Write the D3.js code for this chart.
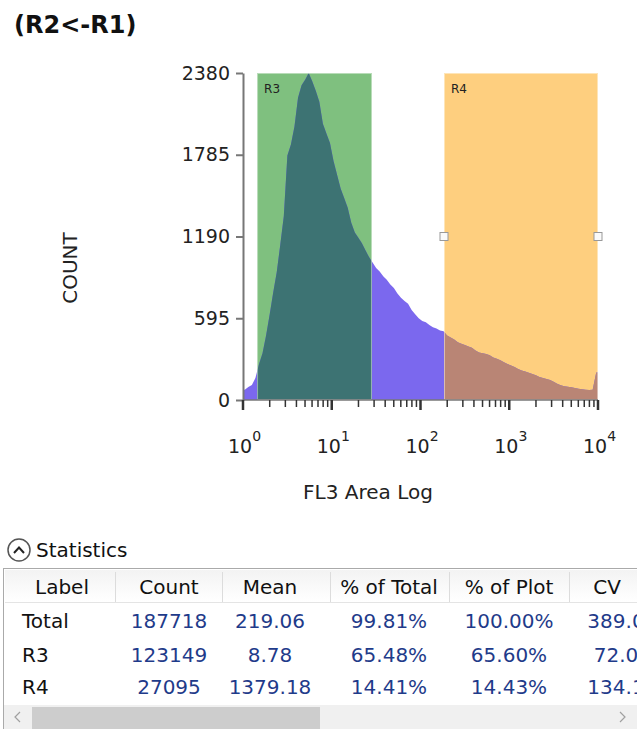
<!DOCTYPE html>
<html><head><meta charset="utf-8">
<script src="https://cdn.jsdelivr.net/npm/d3@7/dist/d3.min.js"></script>
<style>
html,body{margin:0;padding:0;background:#fff;}
svg{display:block;}
</style></head>
<body>
<svg id="c" width="637" height="729"></svg>
<script>
// ---------- data ----------
const title = "(R2<-R1)";
const xLabel = "FL3 Area Log";
const yLabel = "COUNT";
const yTicks = [0, 595, 1190, 1785, 2380];
const xDecades = [0, 1, 2, 3, 4];
const logMin = 0, logMax = 4;
// histogram counts, equal-width bins in log10 space from 10^0 to 10^4
const counts = [
  75, 95, 110, 160, 260, 340, 470, 620, 780, 930,
  1130, 1340, 1780, 1860, 1990, 2200, 2290, 2330, 2380, 2320,
  2250, 2170, 2010, 1940, 1870, 1740, 1640, 1540, 1470, 1400,
  1290, 1220, 1180, 1140, 1090, 1040, 1000, 960, 935, 900,
  875, 840, 815, 775, 745, 720, 700, 655, 625, 595,
  575, 565, 545, 530, 520, 505, 500, 470, 455, 440,
  420, 410, 400, 390, 380, 360, 345, 340, 335, 325,
  310, 300, 290, 275, 262, 252, 240, 225, 215, 208,
  198, 190, 180, 168, 160, 152, 145, 132, 118, 108,
  100, 96, 92, 88, 82, 78, 74, 72, 74, 200
];
const gateNames = ["R3", "R4"];
const gateLo = [1.44, 184];
const gateHi = [28.4, 10000];
const gateSelected = [false, true];
const statCols = ["Label", "Count", "Mean", "% of Total", "% of Plot", "CV"];
const statRows = ["Total", "R3", "R4"];
const statCount = ["187718", "123149", "27095"];
const statMean = ["219.06", "8.78", "1379.18"];
const statPctTotal = ["99.81%", "65.48%", "14.41%"];
const statPctPlot = ["100.00%", "65.60%", "14.43%"];
const statCV = ["389.0", "72.0", "134.1"];

// ---------- drawing ----------
const svg = d3.select("#c");
const FONT = "DejaVu Sans, Verdana, sans-serif";
const gateFill = ["#7fc07f", "#fecf7f"];
const overlapFill = ["#3d7373", "#b98575"];
const histFill = "#7b68ee";

const x = d3.scaleLog().domain([10 ** logMin, 10 ** logMax]).range([243, 598]);
const y = d3.scaleLinear().domain([0, 2380]).range([400, 73]);

svg.append("text").attr("x", 14).attr("y", 33)
  .attr("font-family", FONT).attr("font-weight", "bold").attr("font-size", 24)
  .attr("fill", "#111").text(title);

// gates background
const gates = gateNames.map((n, i) => ({name: n, lo: gateLo[i], hi: gateHi[i], sel: gateSelected[i], i}));
svg.selectAll("rect.gate").data(gates).enter().append("rect")
  .attr("class", "gate")
  .attr("x", d => x(d.lo)).attr("y", y(2380))
  .attr("width", d => x(d.hi) - x(d.lo)).attr("height", y(0) - y(2380))
  .attr("fill", d => gateFill[d.i]);

// histogram area through bin centres
const N = counts.length;
const w = (logMax - logMin) / N;
const pts = [[10 ** logMin, counts[0]]];
counts.forEach((c, i) => pts.push([10 ** (logMin + (i + 0.5) * w), c]));
pts.push([10 ** logMax, counts[N - 1]]);
const area = d3.area().x(d => x(d[0])).y0(y(0)).y1(d => y(d[1]));

const defs = svg.append("defs");
gates.forEach(d => {
  defs.append("clipPath").attr("id", "clip" + d.i).append("rect")
    .attr("x", x(d.lo)).attr("y", 0).attr("width", x(d.hi) - x(d.lo)).attr("height", 729);
});
svg.append("path").datum(pts).attr("d", area).attr("fill", histFill);
gates.forEach(d => {
  svg.append("path").datum(pts).attr("d", area).attr("fill", overlapFill[d.i])
    .attr("clip-path", `url(#clip${d.i})`);
});
// gate edges + labels
svg.selectAll("rect.gedge").data(gates).enter().append("rect")
  .attr("x", d => x(d.lo) + 0.5).attr("y", y(2380) + 0.5)
  .attr("width", d => x(d.hi) - x(d.lo) - 1).attr("height", y(0) - y(2380) - 1)
  .attr("fill", "none").attr("stroke", "#ffffff").attr("stroke-opacity", 0.45);
svg.selectAll("text.glab").data(gates).enter().append("text")
  .attr("x", d => x(d.lo) + 7).attr("y", y(2380) + 20)
  .attr("font-family", FONT).attr("font-size", 12).attr("fill", "#222")
  .text(d => d.name);
gates.filter(d => d.sel).forEach(d => {
  [d.lo, d.hi].forEach(v => {
    svg.append("rect").attr("x", x(v) - 4).attr("y", y(1190) - 4)
      .attr("width", 8).attr("height", 8)
      .attr("fill", "#fafafa").attr("stroke", "#999").attr("stroke-width", 1);
  });
});

// y axis
const yAxis = svg.append("g").attr("transform", "translate(243,0)")
  .call(d3.axisLeft(y).tickValues(yTicks).tickFormat(d3.format("d"))
    .tickSize(7).tickSizeOuter(0).tickPadding(6));
yAxis.select(".domain").attr("stroke", "#777").attr("stroke-width", 2);
yAxis.selectAll(".tick line").attr("stroke", "#777").attr("stroke-width", 2);
yAxis.selectAll(".tick text").attr("font-family", FONT).attr("font-size", 19).attr("fill", "#222");

// x axis
const xg = svg.append("g");
xg.append("line").attr("x1", x(1)).attr("x2", x(1e4)).attr("y1", y(0)).attr("y2", y(0))
  .attr("stroke", "#777").attr("stroke-width", 1.5);
const minorVals = [];
for (let d = logMin; d < logMax; d++) for (let m = 1; m <= 9; m++) minorVals.push(m * 10 ** d);
minorVals.push(10 ** logMax);
const isMajor = v => Math.abs(Math.log10(v) % 1) < 1e-9;
xg.selectAll("line.t").data(minorVals).enter().append("line")
  .attr("x1", d => x(d)).attr("x2", d => x(d))
  .attr("y1", y(0))
  .attr("y2", d => y(0) + (isMajor(d) ? 10 : 7))
  .attr("stroke", "#333")
  .attr("stroke-width", d => (isMajor(d) ? 2.5 : 1.5));
const xt = xg.selectAll("text.xt").data(xDecades).enter().append("text")
  .attr("x", d => x(10 ** d) - 15).attr("y", 453)
  .attr("font-family", FONT).attr("font-size", 19).attr("fill", "#222");
xt.append("tspan").text("10");
xt.append("tspan").attr("dy", -12).attr("font-size", 14).text(d => d);

svg.append("text").attr("x", 368).attr("y", 499).attr("text-anchor", "middle")
  .attr("font-family", FONT).attr("font-size", 20).attr("fill", "#222").text(xLabel);
svg.append("text").attr("transform", "translate(77,268) rotate(-90)").attr("text-anchor", "middle")
  .attr("font-family", FONT).attr("font-size", 20).attr("fill", "#222").text(yLabel);

// ---------- statistics ----------
svg.append("circle").attr("cx", 19).attr("cy", 550).attr("r", 11)
  .attr("fill", "#fff").attr("stroke", "#555").attr("stroke-width", 1.5);
svg.append("path").attr("d", "M14,553 L19,547.5 L24,553").attr("fill", "none")
  .attr("stroke", "#222").attr("stroke-width", 2);
svg.append("text").attr("x", 36).attr("y", 557).attr("font-family", FONT)
  .attr("font-size", 20).attr("fill", "#111").text("Statistics");

const tbl = svg.append("g");
tbl.append("rect").attr("x", 3.5).attr("y", 568.5).attr("width", 640).attr("height", 170)
  .attr("fill", "#fff").attr("stroke", "#aaa").attr("stroke-width", 1);
const grad = defs.append("linearGradient").attr("id", "hdr").attr("x1", 0).attr("y1", 0).attr("x2", 0).attr("y2", 1);
grad.append("stop").attr("offset", "0%").attr("stop-color", "#f3f3f3");
grad.append("stop").attr("offset", "100%").attr("stop-color", "#ffffff");
tbl.append("rect").attr("x", 5).attr("y", 570).attr("width", 632).attr("height", 32).attr("fill", "url(#hdr)");
tbl.append("line").attr("x1", 5).attr("x2", 637).attr("y1", 602.5).attr("y2", 602.5).attr("stroke", "#e4e4e4");
const colEdges = [5, 115, 222, 330, 449, 569, 660];
const colCenters = [62, 169, 270, 389, 509, 607];
const valCenters = [169, 270, 389, 509, 616];
const sep = colEdges.slice(1, -1);
tbl.selectAll("line.sep").data(sep).enter().append("line")
  .attr("x1", d => d + 0.5).attr("x2", d => d + 0.5).attr("y1", 572).attr("y2", 602)
  .attr("stroke", "#dcdcdc");
tbl.selectAll("text.hd").data(statCols).enter().append("text")
  .attr("x", (d, i) => colCenters[i]).attr("y", 594).attr("text-anchor", "middle")
  .attr("font-family", FONT).attr("font-size", 20).attr("fill", "#111").text(d => d);
const rowY = [628, 662, 694];
const cols = [statCount, statMean, statPctTotal, statPctPlot, statCV];
statRows.forEach((r, ri) => {
  tbl.append("text").attr("x", 22).attr("y", rowY[ri]).attr("font-family", FONT)
    .attr("font-size", 20).attr("fill", "#111").text(r);
  cols.forEach((col, ci) => {
    tbl.append("text").attr("x", valCenters[ci]).attr("y", rowY[ri]).attr("text-anchor", "middle")
      .attr("font-family", FONT).attr("font-size", 20).attr("fill", "#1f3b8a").text(col[ri]);
  });
});
// scrollbar
tbl.append("rect").attr("x", 4).attr("y", 705).attr("width", 633).attr("height", 24).attr("fill", "#f0f0f0");
tbl.append("rect").attr("x", 32).attr("y", 707).attr("width", 288).attr("height", 22).attr("fill", "#cdcdcd");
tbl.append("path").attr("d", "M20,712 L15,717 L20,722").attr("fill", "none").attr("stroke", "#a0a0a0").attr("stroke-width", 1.2);
tbl.append("path").attr("d", "M620,712 L625,717 L620,722").attr("fill", "none").attr("stroke", "#a0a0a0").attr("stroke-width", 1.2);
</script>
</body></html>
